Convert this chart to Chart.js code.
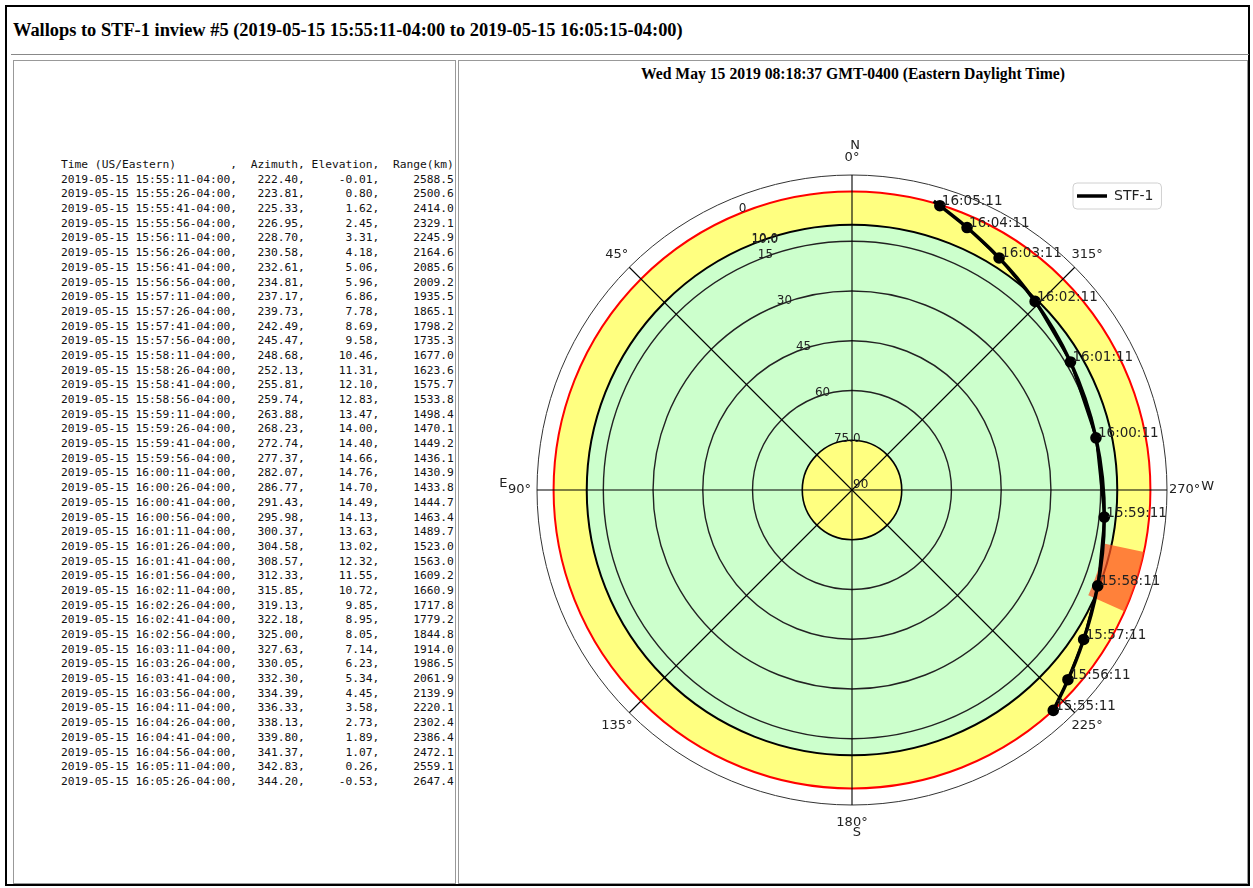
<!DOCTYPE html>
<html>
<head>
<meta charset="utf-8">
<script src="https://cdn.jsdelivr.net/npm/chart.js@4.4.1/dist/chart.umd.min.js"></script>
<style>
  html, body { margin: 0; padding: 0; background: #fff; }
  body { width: 1253px; height: 888px; overflow: hidden; position: relative; font-family: "Liberation Serif", serif; }
  #frame { position: absolute; left: 5px; top: 5px; width: 1241px; height: 877px; border: 2px solid #000; }
  #title { position: absolute; left: 13px; top: 19px; font-weight: bold; font-size: 18.4px; line-height: 22px; white-space: nowrap; }
  #rule { position: absolute; left: 11px; top: 54px; width: 1238px; height: 0; border-top: 1px solid #888; }
  .cell { position: absolute; top: 60px; height: 822px; border: 1px solid #999; }
  #left { left: 13px; width: 441px; }
  #right { left: 458px; width: 788px; }
  #table { position: absolute; left: 61px; top: 158px; margin: 0; font-family: "DejaVu Sans Mono", monospace; font-size: 11.25px; line-height: 14.69px; color: #111; }
  #subtitle { position: absolute; left: 458px; width: 790px; top: 64px; text-align: center; font-weight: bold; font-size: 15.7px; line-height: 19px; white-space: nowrap; }
  #plot { position: absolute; left: 462px; top: 95px; width: 780px; height: 785px; }
</style>
</head>
<body>
<div id="frame"></div>
<div id="title">Wallops to STF-1 inview #5 (2019-05-15 15:55:11-04:00 to 2019-05-15 16:05:15-04:00)</div>
<div id="rule"></div>
<div class="cell" id="left"></div>
<div class="cell" id="right"></div>
<pre id="table"></pre>
<div id="subtitle">Wed May 15 2019 08:18:37 GMT-0400 (Eastern Daylight Time)</div>
<div id="plot"><canvas id="skyChart"></canvas></div>
<script>
const times = [
  '2019-05-15 15:55:11-04:00', '2019-05-15 15:55:26-04:00', '2019-05-15 15:55:41-04:00', '2019-05-15 15:55:56-04:00',
  '2019-05-15 15:56:11-04:00', '2019-05-15 15:56:26-04:00', '2019-05-15 15:56:41-04:00', '2019-05-15 15:56:56-04:00',
  '2019-05-15 15:57:11-04:00', '2019-05-15 15:57:26-04:00', '2019-05-15 15:57:41-04:00', '2019-05-15 15:57:56-04:00',
  '2019-05-15 15:58:11-04:00', '2019-05-15 15:58:26-04:00', '2019-05-15 15:58:41-04:00', '2019-05-15 15:58:56-04:00',
  '2019-05-15 15:59:11-04:00', '2019-05-15 15:59:26-04:00', '2019-05-15 15:59:41-04:00', '2019-05-15 15:59:56-04:00',
  '2019-05-15 16:00:11-04:00', '2019-05-15 16:00:26-04:00', '2019-05-15 16:00:41-04:00', '2019-05-15 16:00:56-04:00',
  '2019-05-15 16:01:11-04:00', '2019-05-15 16:01:26-04:00', '2019-05-15 16:01:41-04:00', '2019-05-15 16:01:56-04:00',
  '2019-05-15 16:02:11-04:00', '2019-05-15 16:02:26-04:00', '2019-05-15 16:02:41-04:00', '2019-05-15 16:02:56-04:00',
  '2019-05-15 16:03:11-04:00', '2019-05-15 16:03:26-04:00', '2019-05-15 16:03:41-04:00', '2019-05-15 16:03:56-04:00',
  '2019-05-15 16:04:11-04:00', '2019-05-15 16:04:26-04:00', '2019-05-15 16:04:41-04:00', '2019-05-15 16:04:56-04:00',
  '2019-05-15 16:05:11-04:00', '2019-05-15 16:05:26-04:00'
];
const azimuth = [
  222.40, 223.81, 225.33, 226.95, 228.70, 230.58, 232.61, 234.81, 237.17, 239.73, 242.49, 245.47,
  248.68, 252.13, 255.81, 259.74, 263.88, 268.23, 272.74, 277.37, 282.07, 286.77, 291.43, 295.98,
  300.37, 304.58, 308.57, 312.33, 315.85, 319.13, 322.18, 325.00, 327.63, 330.05, 332.30, 334.39,
  336.33, 338.13, 339.80, 341.37, 342.83, 344.20
];
const elevation = [
  -0.01, 0.80, 1.62, 2.45, 3.31, 4.18, 5.06, 5.96, 6.86, 7.78, 8.69, 9.58,
  10.46, 11.31, 12.10, 12.83, 13.47, 14.00, 14.40, 14.66, 14.76, 14.70, 14.49, 14.13,
  13.63, 13.02, 12.32, 11.55, 10.72, 9.85, 8.95, 8.05, 7.14, 6.23, 5.34, 4.45,
  3.58, 2.73, 1.89, 1.07, 0.26, -0.53
];
const rangeKm = [
  2588.5, 2500.6, 2414.0, 2329.1, 2245.9, 2164.6, 2085.6, 2009.2, 1935.5, 1865.1, 1798.2, 1735.3,
  1677.0, 1623.6, 1575.7, 1533.8, 1498.4, 1470.1, 1449.2, 1436.1, 1430.9, 1433.8, 1444.7, 1463.4,
  1489.7, 1523.0, 1563.0, 1609.2, 1660.9, 1717.8, 1779.2, 1844.8, 1914.0, 1986.5, 2061.9, 2139.9,
  2220.1, 2302.4, 2386.4, 2472.1, 2559.1, 2647.4
];

// sky regions (elevation, deg)
const horizonEl = 0;
const maskEl = 10;
const zenithEl = 75;
const outerEl = -5;
const ringEls = [15, 30, 45, 60];
const rTickValues = [0, 10, 15, 30, 45, 60, 75, 90];
const rTickLabels = ['0', '10.0', '15', '30', '45', '60', '75.0', '90'];
const thetaTicks = [0, 45, 90, 135, 180, 225, 270, 315];
const thetaLabels = ['0°', '45°', '90°', '135°', '180°', '225°', '270°', '315°'];
const compass = ['N', 'E', 'S', 'W'];
const compassAz = [0, 90, 180, 270];
// blocked sector
const blockAz = [246, 258];
const blockEl = [0, 12];

// text table on the left
const pad = (s, n) => s.length >= n ? s : ' '.repeat(n - s.length) + s;
let lines = ['Time (US/Eastern)'.padEnd(25) + ',' + pad('Azimuth', 9) + ',' + pad('Elevation', 10) + ',' + pad('Range(km)', 11)];
times.forEach((t, i) => {
  lines.push(t + ',' + pad(azimuth[i].toFixed(2), 9) + ',' + pad(elevation[i].toFixed(2), 10) + ',' + pad(rangeKm[i].toFixed(1), 11));
});
document.getElementById('table').textContent = lines.join('\n');

// az/el -> plot xy (N up, E left)
const toXY = (az, el) => {
  const r = 90 - el;
  const a = az * Math.PI / 180;
  return { x: -r * Math.sin(a), y: r * Math.cos(a) };
};
const trackPts = azimuth.map((az, i) => toXY(az, elevation[i]));
const minuteIdx = times.map((t, i) => t.slice(17, 19) === '11' ? i : -1).filter(i => i >= 0);
const minutePts = minuteIdx.map(i => toXY(azimuth[i], elevation[i]));
const minuteLabels = minuteIdx.map(i => times[i].slice(11, 19));

const skyPlugin = {
  id: 'sky',
  afterLayout(chart) {
    const lg = chart.legend;
    if (lg) {
      lg.left = chart.chartArea.right - 100;
      lg.top = chart.chartArea.top + 4;
    }
  },
  beforeDraw(chart) {
    const lg = chart.legend;
    if (!lg || !lg.legendHitBoxes || !lg.legendHitBoxes.length) return;
    const hb = lg.legendHitBoxes[0];
    const ctx = chart.ctx;
    ctx.save();
    ctx.fillStyle = '#fff';
    ctx.strokeStyle = '#d0d0d0';
    ctx.lineWidth = 1;
    ctx.beginPath();
    ctx.roundRect(hb.left - 4, hb.top - 6, hb.width + 12, hb.height + 12, 4);
    ctx.fill();
    ctx.stroke();
    ctx.restore();
  },
  beforeDatasetsDraw(chart) {
    const { ctx, scales: { x: sx, y: sy } } = chart;
    const cx = sx.getPixelForValue(0), cy = sy.getPixelForValue(0);
    const k = sx.getPixelForValue(1) - cx;
    const rad = el => (90 - el) * k;
    const px = (az, el) => {
      const p = toXY(az, el);
      return [sx.getPixelForValue(p.x), sy.getPixelForValue(p.y)];
    };
    const disc = (el, fill) => {
      ctx.beginPath(); ctx.arc(cx, cy, rad(el), 0, Math.PI * 2); ctx.fillStyle = fill; ctx.fill();
    };
    const ring = (el, color, w) => {
      ctx.beginPath(); ctx.arc(cx, cy, rad(el), 0, Math.PI * 2); ctx.strokeStyle = color; ctx.lineWidth = w; ctx.stroke();
    };
    ctx.save();
    disc(horizonEl, '#ffff80');
    disc(maskEl, '#ccffcc');
    disc(zenithEl, '#ffff80');
    ringEls.forEach(e => ring(e, '#222', 1.4));
    ring(maskEl, '#000', 2);
    ring(zenithEl, '#000', 1.6);
    ring(horizonEl, '#ff0000', 2);
    ring(outerEl, '#333', 1);
    ctx.strokeStyle = '#000';
    ctx.lineWidth = 1.1;
    thetaTicks.forEach(az => {
      const [x, y] = px(az, outerEl);
      ctx.beginPath(); ctx.moveTo(cx, cy); ctx.lineTo(x, y); ctx.stroke();
    });
    // blocked sector
    ctx.beginPath();
    for (let a = blockAz[0]; a <= blockAz[1]; a += 1) { const [x, y] = px(a, blockEl[0]); a === blockAz[0] ? ctx.moveTo(x, y) : ctx.lineTo(x, y); }
    for (let a = blockAz[1]; a >= blockAz[0]; a -= 1) { const [x, y] = px(a, blockEl[1]); ctx.lineTo(x, y); }
    ctx.closePath();
    ctx.fillStyle = 'rgba(255, 80, 30, 0.72)';
    ctx.fill();
    // radial tick labels
    ctx.fillStyle = '#222';
    ctx.font = '12px "DejaVu Sans"';
    ctx.textAlign = 'left';
    ctx.textBaseline = 'bottom';
    rTickValues.forEach((v, i) => {
      const [x, y] = px(22.5, v);
      ctx.fillText(rTickLabels[i], x + 1, y + 1);
      if (v === maskEl) ctx.fillText(rTickLabels[i], x + 1, y);
    });
    // azimuth labels
    ctx.font = '13px "DejaVu Sans"';
    ctx.textAlign = 'center';
    ctx.textBaseline = 'middle';
    const rl = rad(-10.3);
    thetaTicks.forEach((az, i) => {
      const a = az * Math.PI / 180;
      ctx.fillText(thetaLabels[i], cx - rl * Math.sin(a), cy - rl * Math.cos(a));
    });
    const off = [[3, -12], [-16, -6], [5, 10], [23, -3]];
    compass.forEach((c, i) => {
      const a = compassAz[i] * Math.PI / 180;
      ctx.fillText(c, cx - rl * Math.sin(a) + off[i][0], cy - rl * Math.cos(a) + off[i][1]);
    });
    ctx.restore();
  },
  afterDatasetsDraw(chart) {
    const ctx = chart.ctx;
    const meta = chart.getDatasetMeta(1);
    ctx.save();
    ctx.fillStyle = '#222';
    ctx.font = '13.5px "DejaVu Sans"';
    ctx.textAlign = 'left';
    ctx.textBaseline = 'middle';
    meta.data.forEach((p, i) => ctx.fillText(minuteLabels[i], p.x + 2, p.y - 4));
    ctx.restore();
  }
};

new Chart(document.getElementById('skyChart'), {
  type: 'scatter',
  data: {
    datasets: [{
      label: 'STF-1',
      data: trackPts,
      showLine: true,
      borderColor: '#000',
      backgroundColor: '#000',
      borderWidth: 3.5,
      pointRadius: 0
    }, {
      label: 'minutes',
      data: minutePts,
      showLine: true,
      borderColor: '#000',
      backgroundColor: '#000',
      borderWidth: 2,
      pointRadius: 4.8
    }]
  },
  options: {
    responsive: true,
    maintainAspectRatio: false,
    animation: false,
    layout: { padding: { left: 75, right: 75, top: 80, bottom: 75 } },
    scales: {
      x: { type: 'linear', min: -95, max: 95, display: false },
      y: { type: 'linear', min: -95, max: 95, display: false }
    },
    plugins: {
      tooltip: { enabled: false },
      legend: {
        position: 'chartArea',
        align: 'start',
        labels: {
          filter: item => item.text === 'STF-1',
          usePointStyle: true,
          pointStyle: 'line',
          pointStyleWidth: 30,
          color: '#222',
          font: { family: 'DejaVu Sans', size: 14 }
        }
      }
    }
  },
  plugins: [skyPlugin]
});
</script>
</body>
</html>
